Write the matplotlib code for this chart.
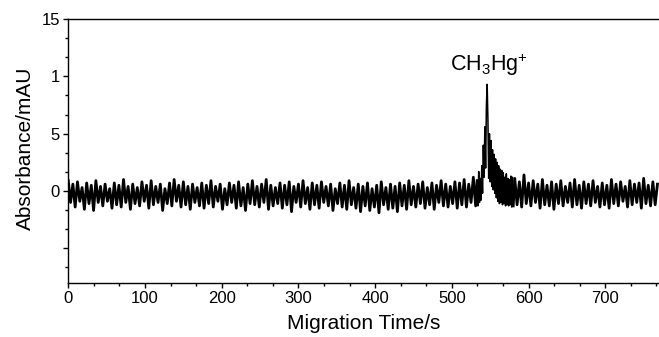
import numpy as np
import matplotlib
matplotlib.use("Agg")
import matplotlib.pyplot as plt
from matplotlib.ticker import FixedLocator, FixedFormatter, AutoMinorLocator

plt.rcParams['font.family'] = ['Liberation Sans', 'DejaVu Sans']
plt.rcParams['mathtext.fontset'] = 'custom'
plt.rcParams['mathtext.rm'] = 'Liberation Sans'
plt.rcParams['mathtext.it'] = 'Liberation Sans'

# Electropherogram (alternating upper/lower excursions of the noisy trace)
pre_peak_start, pre_peak_step = 0, 3
pre_peak = [
    0.9, -1.0, 0.6, -1.4, 0.8, -0.9, 0.3, -1.6, 0.7, -1.1,
    0.5, -1.7, 0.9, -1.0, 0.4, -1.3, 0.6, -0.9, 0.2, -1.5,
    0.7, -1.2, 0.5, -1.4, 1.0, -1.0, 0.4, -1.6, 0.6, -1.1,
    0.3, -1.3, 0.8, -0.9, 0.5, -1.5, 0.9, -1.2, 0.4, -1.0,
    0.6, -1.7, 0.2, -1.1, 0.7, -1.3, 1.0, -0.9, 0.5, -1.4,
    0.8, -1.2, 0.4, -1.6, 0.6, -1.0, 0.3, -1.3, 0.7, -1.5,
    0.5, -1.1, 0.9, -1.4, 0.4, -0.9, 0.6, -1.6, 0.2, -1.2,
    0.7, -1.0, 0.5, -1.5, 0.8, -1.3, 0.3, -1.7, 0.6, -1.1,
    0.9, -1.2, 0.4, -1.4, 0.6, -1.0, 1.0, -1.6, 0.5, -1.3,
    0.3, -1.1, 0.7, -1.5, 0.5, -1.2, 0.8, -1.8, 0.4, -1.0,
    0.6, -1.4, 0.9, -1.1, 0.3, -1.6, 0.7, -1.2, 0.5, -1.5,
    0.8, -1.0, 0.4, -1.3, 0.6, -1.7, 0.2, -1.1, 0.7, -1.4,
    0.5, -1.6, 0.9, -1.2, 0.3, -1.5, 0.6, -1.8, 0.4, -1.3,
    0.7, -1.7, 0.2, -1.4, 0.5, -1.9, 0.8, -1.2, 0.3, -1.6,
    0.6, -1.5, 0.4, -1.8, 0.7, -1.3, 0.5, -1.6, 0.9, -1.2,
    0.4, -1.4, 0.6, -1.1, 0.8, -1.5, 0.3, -1.2, 0.7, -1.6,
    0.5, -1.0, 0.9, -1.3, 0.6, -1.4, 0.4, -1.1, 0.8, -1.5,
    0.7, -1.2, 1.0, -1.4, 0.6, -1.0, 1.2, -1.3,
]
peak_start, peak_step = 533, 1
peak = [
    0.9, -1.3, 1.7, -1.0, 1.1, -0.8, 2.2, -0.2, 4.0, 1.2,
    5.6, 2.0, 7.4, 9.3, 6.2, 1.1, 5.0, 0.8, 4.4, 0.4,
    3.6, 0.1, 3.2, -0.2, 2.8, -0.6, 2.5, -0.9, 2.2, -1.1,
    1.9, -1.0, 1.8, -1.2, 1.6, -1.1, 1.2, -1.3, 1.5, -1.2,
    1.1, -1.3, 1.0, -1.2, 1.3, -1.4, 1.2, -1.3,
]
post_peak_start, post_peak_step = 582, 3
post_peak = [
    1.1, -1.2, 0.8, -1.4, 1.4, -1.1, 0.7, -1.3, 0.9, -1.0,
    0.6, -1.5, 1.0, -1.2, 0.5, -1.3, 0.8, -1.6, 0.6, -1.1,
    0.9, -1.3, 0.4, -1.0, 0.7, -1.4, 1.0, -1.2, 0.5, -1.5,
    0.8, -1.1, 0.6, -1.3, 0.9, -1.0, 0.4, -1.4, 0.7, -1.2,
    0.5, -1.5, 1.0, -1.1, 0.6, -1.3, 0.8, -0.9, 0.4, -1.4,
    0.9, -1.2, 0.6, -1.0, 0.7, -1.5, 1.1, -1.1, 0.5, -1.3,
    0.8, -1.2, 0.6,
]

y_tick_values = [-5, 0, 5, 10, 15]
y_tick_labels = ["", "0", "5", "1", "15"]
x_tick_values = [0, 100, 200, 300, 400, 500, 600, 700]
x_tick_labels = ["0", "100", "200", "300", "400", "500", "600", "700"]
peak_label = "CH$_3$Hg$^{+}$"
peak_label_time = 548
peak_label_level = 10.5

def times(start, step, vals):
    return start + step * np.arange(len(vals))

t_pre = times(pre_peak_start, pre_peak_step, pre_peak)
t_peak = times(peak_start, peak_step, peak)
t_post = times(post_peak_start, post_peak_step, post_peak)

fig = plt.figure(figsize=(6.59, 3.37), dpi=100)
ax = fig.add_axes([0.1036, 0.1611, 0.8964, 0.7825])
# sparse baseline segments drawn heavier so the noise band reads solid, peak segment finer
ax.plot(np.append(t_pre, t_peak[0]), np.append(pre_peak, peak[0]), color='black', lw=2.0)
ax.plot(t_peak, peak, color='black', lw=1.1)
ax.plot(np.insert(t_post, 0, t_peak[-1]), np.insert(np.array(post_peak), 0, peak[-1]),
        color='black', lw=2.0)

ax.set_xlim(0, 770)
ax.set_ylim(-8, 15)
ax.spines['right'].set_visible(False)
for s in ['left', 'bottom', 'top']:
    ax.spines[s].set_linewidth(1.0)

ax.xaxis.set_major_locator(FixedLocator(x_tick_values))
ax.xaxis.set_major_formatter(FixedFormatter(x_tick_labels))
ax.xaxis.set_minor_locator(AutoMinorLocator(3))
ax.yaxis.set_major_locator(FixedLocator(y_tick_values))
ax.yaxis.set_major_formatter(FixedFormatter(y_tick_labels))
ax.yaxis.set_minor_locator(AutoMinorLocator(3))
ax.tick_params(which='major', direction='out', length=3.5, width=1, labelsize=12, pad=2.5,
               top=False, right=False)
ax.tick_params(which='minor', direction='out', length=2, width=1, top=False, right=False)

ax.set_xlabel("Migration Time/s", fontsize=15)
ax.xaxis.set_label_coords(0.5, -0.118)
ax.set_ylabel("Absorbance/mAU", fontsize=15)
ax.yaxis.set_label_coords(-0.056, 0.51)

ax.text(peak_label_time, peak_label_level, peak_label, ha='center', va='baseline', fontsize=15.5)

fig.savefig("out.png", dpi=100)
